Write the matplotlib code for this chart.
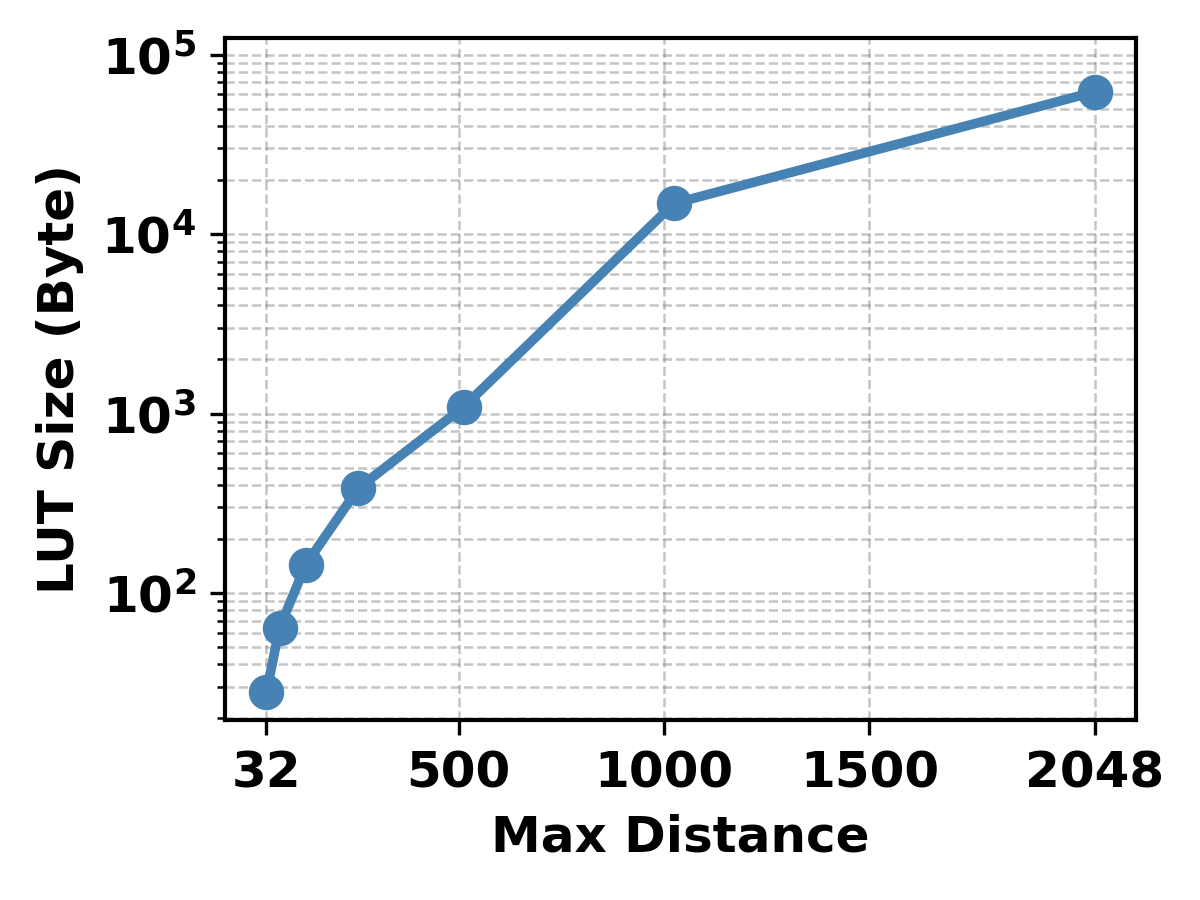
import matplotlib
matplotlib.use('Agg')
import matplotlib.pyplot as plt

max_distance = [32, 64, 128, 256, 512, 1024, 2048]
lut_size = [28, 64, 144, 384, 1088, 14800, 62000]
xtick_values = [32, 500, 1000, 1500, 2048]

plt.rcParams['font.weight'] = 'bold'
plt.rcParams['axes.labelweight'] = 'bold'
plt.rcParams['axes.linewidth'] = 1.0

fig, ax = plt.subplots(figsize=(4, 3), dpi=300)
ax.plot(max_distance, lut_size, marker='o', color='steelblue',
        linewidth=2.3, markersize=7.5)
ax.set_yscale('log')
ax.set_ylim(min(lut_size) * 0.7, max(lut_size) * 2)
ax.set_xticks(xtick_values)
ax.set_xticklabels([str(v) for v in xtick_values])
ax.set_xlabel('Max Distance', fontsize=12)
ax.set_ylabel('LUT Size (Byte)', fontsize=12)
ax.tick_params(axis='both', labelsize=12)
ax.grid(True, which='both', linestyle='--', color='gray', alpha=0.45, linewidth=0.6)
fig.subplots_adjust(left=0.1875, right=0.9467, top=0.958, bottom=0.2)
plt.savefig('out.png', dpi=300)
